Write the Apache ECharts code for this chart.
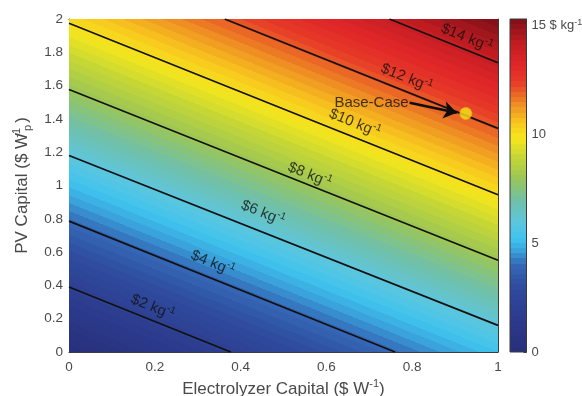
<!DOCTYPE html>
<html>
<head>
<meta charset="utf-8">
<script src="https://cdn.jsdelivr.net/npm/echarts@6/dist/echarts.min.js"></script>
<style>
  html, body { margin: 0; padding: 0; background: #ffffff; }
  #chart { width: 582px; height: 396px; }
</style>
</head>
<body>
<div id="chart"></div>
<script>
// Levelized hydrogen cost ($ per kg) over electrolyzer and PV capital cost

// Contour levels and the end points of each iso-cost line [electrolyzer, PV]
const costLevels = [2, 4, 6, 8, 10, 12, 14];
const contourStart = [[0, 0.39], [0, 0.786], [0, 1.18], [0, 1.577], [0, 1.974], [0.363, 2], [0.747, 2]];
const contourEnd = [[0.377, 0], [0.76, 0], [1, 0.16], [1, 0.551], [1, 0.944], [1, 1.343], [1, 1.737]];
// Where each level's label sits along its line
const labelAnchors = [[0.195, 0.269], [0.335, 0.533], [0.452, 0.834], [0.561, 1.062], [0.666, 1.374], [0.787, 1.645], [0.927, 1.886]];

// Base case and its pointer
const baseCase = [0.925, 1.433];
const arrowFrom = [0.794, 1.497];
const arrowTo = [0.904, 1.437];

// Colour scale range and colorbar ticks
const costRange = [0, 15.3];
const colorbarTicks = [0, 5, 10, 15];

// Colormap anchors: [cost, colour]
const colormapValues = [0, 1.5, 3, 4, 4.7, 5.2, 6, 7, 8, 9, 9.8, 10.5, 11.2, 11.8, 12.4, 13.2, 14.2, 15.3];
const colormapColors = ['#27307a', '#2c3a8c', '#2f4c9e', '#3468b6', '#3aa6de', '#40c4ee', '#5ec6dc', '#72c0a4',
  '#9cc656', '#c8d834', '#f6e61c', '#f8c81e', '#f09a22', '#ea6a26', '#e63a28', '#e02628', '#c01c22', '#7c1016'];
const bandCount = 64;

const FONT = "'Liberation Sans', Arial, Helvetica, sans-serif";

function hexToRgb(h) {
  return [parseInt(h.slice(1, 3), 16), parseInt(h.slice(3, 5), 16), parseInt(h.slice(5, 7), 16)];
}
function colormap(v) {
  if (v <= colormapValues[0]) return colormapColors[0];
  for (let i = 1; i < colormapValues.length; i++) {
    if (v <= colormapValues[i]) {
      const t = (v - colormapValues[i - 1]) / (colormapValues[i] - colormapValues[i - 1]);
      const a = hexToRgb(colormapColors[i - 1]), b = hexToRgb(colormapColors[i]);
      const c = a.map((x, k) => Math.round(x + (b[k] - x) * t));
      return 'rgb(' + c.join(',') + ')';
    }
  }
  return colormapColors[colormapColors.length - 1];
}
// Stepped colour stops: one flat band per colormap entry
function bandStops() {
  const stops = [];
  const span = costRange[1] - costRange[0];
  for (let i = 0; i < bandCount; i++) {
    const col = colormap(costRange[0] + span * (i + 0.5) / bandCount);
    stops.push({ offset: i / bandCount, color: col });
    stops.push({ offset: (i + 1) / bandCount, color: col });
  }
  return stops;
}
const stops = bandStops();

const chart = echarts.init(document.getElementById('chart'), null, { renderer: 'canvas' });

const axisGray = '#3a3a3a';
const labelGray = '#4a4a4a';

const contourLabelRich = {
  m: { fontSize: 15, fontFamily: FONT, color: '#111', lineHeight: 19, verticalAlign: 'middle' },
  s: { fontSize: 10, fontFamily: FONT, color: '#111', lineHeight: 10, verticalAlign: 'top' }
};

const option = {
  animation: false,
  backgroundColor: '#ffffff',
  textStyle: { fontFamily: FONT },
  grid: [
    { left: 69, right: 84, top: 19, bottom: 44, outerBoundsMode: 'none', containLabel: false },
    { left: 510, width: 16.5, top: 19, bottom: 44, outerBoundsMode: 'none', containLabel: false }
  ],
  xAxis: [
    {
      gridIndex: 0, type: 'value', min: 0, max: 1, interval: 0.2, position: 'bottom',
      name: 'Electrolyzer Capital ($ W{sup|-1})',
      nameLocation: 'middle', nameGap: 25,
      nameTextStyle: {
        fontSize: 17, color: labelGray, fontFamily: FONT, lineHeight: 21,
        rich: { sup: { fontSize: 11, lineHeight: 10, verticalAlign: 'top', color: labelGray, fontFamily: FONT } }
      },
      axisLine: { show: true, onZero: false, lineStyle: { color: axisGray, width: 1 } },
      axisTick: { show: true, inside: true, length: 4, lineStyle: { color: axisGray } },
      axisLabel: { color: labelGray, fontSize: 13.5, margin: 8, fontFamily: FONT },
      splitLine: { show: false }
    },
    {
      gridIndex: 0, type: 'value', min: 0, max: 1, interval: 0.2, position: 'top',
      axisLine: { show: true, onZero: false, lineStyle: { color: axisGray, width: 1 } },
      axisTick: { show: true, inside: true, length: 4, lineStyle: { color: axisGray } },
      axisLabel: { show: false }, splitLine: { show: false }
    },
    { gridIndex: 1, type: 'value', min: 0, max: 1, show: false }
  ],
  yAxis: [
    {
      gridIndex: 0, type: 'value', min: 0, max: 2, interval: 0.2, position: 'left',
      name: 'PV Capital ($ W{sup|-1}{sub|p})',
      nameLocation: 'middle', nameGap: 28, nameRotate: 90,
      nameTextStyle: {
        fontSize: 17, color: labelGray, fontFamily: FONT, lineHeight: 22,
        rich: {
          sup: { fontSize: 11, lineHeight: 10, verticalAlign: 'top', color: labelGray, fontFamily: FONT, width: 0 },
          sub: { fontSize: 11, lineHeight: 10, verticalAlign: 'bottom', color: labelGray, fontFamily: FONT, width: 10 }
        }
      },
      axisLine: { show: true, onZero: false, lineStyle: { color: axisGray, width: 1 } },
      axisTick: { show: true, inside: true, length: 4, lineStyle: { color: axisGray } },
      axisLabel: { color: labelGray, fontSize: 13.5, margin: 6, fontFamily: FONT },
      splitLine: { show: false }
    },
    {
      gridIndex: 0, type: 'value', min: 0, max: 2, interval: 0.2, position: 'right',
      axisLine: { show: true, onZero: false, lineStyle: { color: axisGray, width: 1 } },
      axisTick: { show: true, inside: true, length: 4, lineStyle: { color: axisGray } },
      axisLabel: { show: false }, splitLine: { show: false }
    },
    {
      gridIndex: 1, type: 'value', min: costRange[0], max: costRange[1], interval: 5, position: 'right',
      axisLine: { show: true, onZero: false, lineStyle: { color: axisGray, width: 1 } },
      axisTick: { show: true, inside: true, length: 3, lineStyle: { color: axisGray },
        customValues: colorbarTicks },
      axisLabel: {
        color: labelGray, fontSize: 13, margin: 5, fontFamily: FONT,
        customValues: colorbarTicks,
        formatter: function (v) {
          if (colorbarTicks.indexOf(v) < 0) return '';
          return v === colorbarTicks[colorbarTicks.length - 1] ? '{t|' + v + ' $ kg}{s|-1}' : String(v);
        },
        rich: {
          t: { fontSize: 13, color: labelGray, fontFamily: FONT, lineHeight: 16 },
          s: { fontSize: 9, color: labelGray, fontFamily: FONT, lineHeight: 9, verticalAlign: 'top' }
        }
      },
      splitLine: { show: false }
    }
  ],
  series: [
    {
      // Cost field, banded along the iso-cost direction defined by the contour lines
      name: 'cost field', type: 'custom', xAxisIndex: 0, yAxisIndex: 0, z: 1,
      clip: true, silent: true,
      data: [[0]],
      renderItem: function (params, api) {
        const lo = api.coord([0, 0]);
        const hi = api.coord([1, 2]);
        const last = costLevels.length - 1;
        const a1 = api.coord(contourStart[0]);
        const a2 = api.coord(contourEnd[0]);
        const b1 = api.coord(contourStart[last]);
        let ux = a2[0] - a1[0], uy = a2[1] - a1[1];
        const len = Math.hypot(ux, uy); ux /= len; uy /= len;
        const nx = -uy, ny = ux;
        const dist = (b1[0] - a1[0]) * nx + (b1[1] - a1[1]) * ny;
        const perUnit = dist / (costLevels[last] - costLevels[0]);
        const s0 = (costRange[0] - costLevels[0]) * perUnit;
        const s1 = (costRange[1] - costLevels[0]) * perUnit;
        const grad = new echarts.graphic.LinearGradient(
          a1[0] + nx * s0, a1[1] + ny * s0, a1[0] + nx * s1, a1[1] + ny * s1, stops, true);
        return {
          type: 'rect',
          shape: { x: lo[0], y: hi[1], width: hi[0] - lo[0], height: lo[1] - hi[1] },
          style: { fill: grad }
        };
      }
    },
    {
      name: 'contours', type: 'lines', coordinateSystem: 'cartesian2d', xAxisIndex: 0, yAxisIndex: 0,
      z: 3, silent: true, polyline: false, symbol: 'none',
      lineStyle: { color: '#111111', width: 1.7, opacity: 1 },
      data: costLevels.map((v, i) => ({ name: String(v), coords: [contourStart[i], contourEnd[i]] }))
    },
    {
      name: 'contour labels', type: 'scatter', xAxisIndex: 0, yAxisIndex: 0, z: 4, silent: true,
      symbolSize: 0,
      data: costLevels.map((v, i) => ({ value: labelAnchors[i], level: v })),
      label: {
        show: true, position: 'inside', rotate: -22,
        formatter: function (p) { return '{m|$' + costLevels[p.dataIndex] + ' kg}{s|-1}'; },
        rich: contourLabelRich
      }
    },
    {
      name: 'pointer', type: 'lines', coordinateSystem: 'cartesian2d', xAxisIndex: 0, yAxisIndex: 0,
      z: 5, silent: true, symbol: ['none', 'arrow'], symbolSize: [10, 13],
      lineStyle: { color: '#0d0d0d', width: 2.4, opacity: 1 },
      data: [{ coords: [arrowFrom, arrowTo] }]
    },
    {
      name: 'pointer text', type: 'scatter', xAxisIndex: 0, yAxisIndex: 0, z: 5, silent: true,
      symbolSize: 0,
      data: [arrowFrom],
      label: {
        show: true, position: 'left', distance: 1,
        formatter: 'Base-Case',
        fontSize: 15, color: '#111', fontFamily: FONT
      }
    },
    {
      name: 'Base-Case', type: 'scatter', xAxisIndex: 0, yAxisIndex: 0, z: 6, silent: true,
      symbol: 'circle', symbolSize: 12,
      itemStyle: { color: '#f5e21a', borderColor: '#e8b410', borderWidth: 0.8 },
      data: [baseCase]
    },
    {
      // Colorbar strip
      name: 'colorbar', type: 'custom', xAxisIndex: 2, yAxisIndex: 2, z: 1, silent: true,
      data: [[0]],
      renderItem: function (params, api) {
        const lo = api.coord([0, costRange[0]]);
        const hi = api.coord([1, costRange[1]]);
        const grad = new echarts.graphic.LinearGradient(0, lo[1], 0, hi[1], stops, true);
        return {
          type: 'rect',
          shape: { x: lo[0], y: hi[1], width: hi[0] - lo[0], height: lo[1] - hi[1] },
          style: { fill: grad, stroke: axisGray, lineWidth: 1 }
        };
      }
    }
  ]
};

chart.setOption(option);
</script>
</body>
</html>
